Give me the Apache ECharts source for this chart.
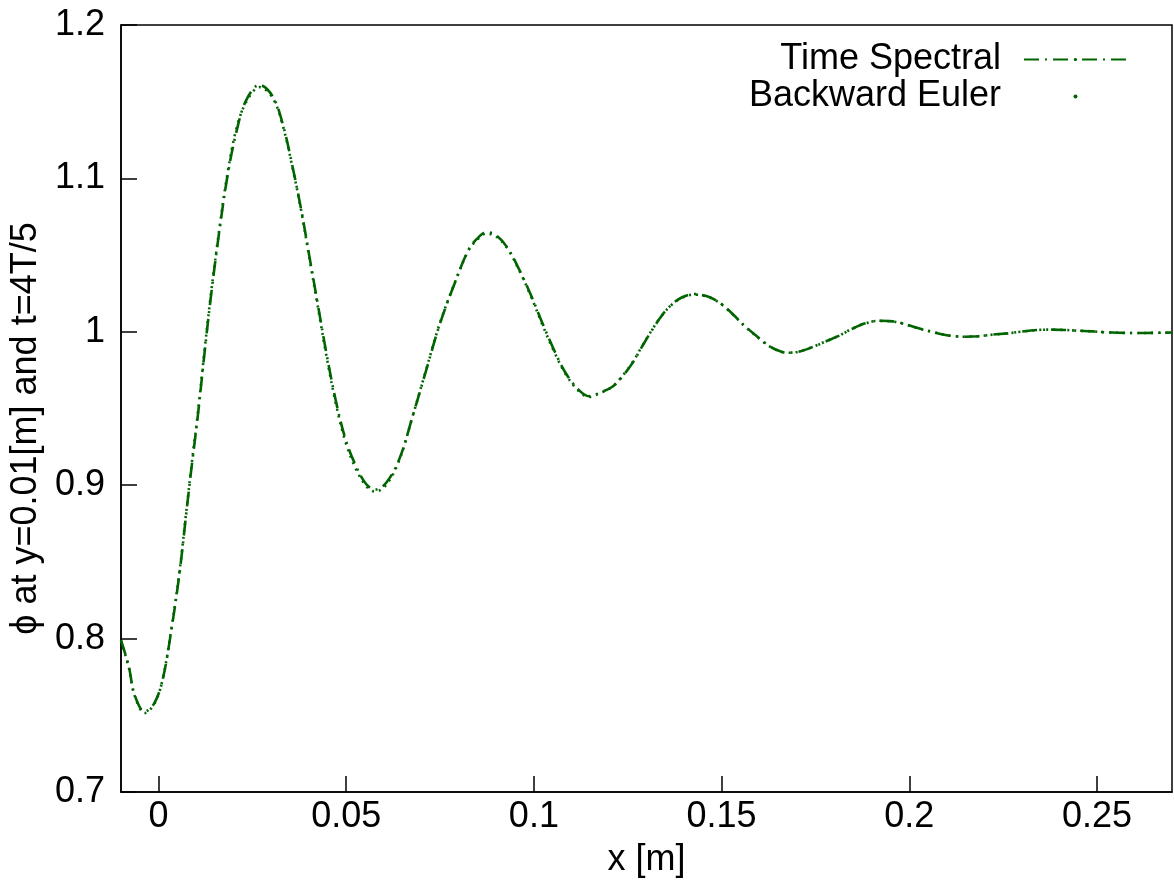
<!DOCTYPE html>
<html>
<head>
<meta charset="utf-8">
<script src="https://cdn.jsdelivr.net/npm/echarts@6/dist/echarts.min.js"></script>
<style>
html,body{margin:0;padding:0;background:#fff;}
#chart{width:1174px;height:886px;}
</style>
</head>
<body>
<div id="chart"></div>
<script>
// x positions [m]
const xs = [-0.0100,-0.0079,-0.0064,-0.0037,-0.0011,0.0011,0.0034,0.0056,0.0074,0.0087,
0.0105,0.0122,0.0140,0.0162,0.0184,0.0207,0.0233,0.0269,0.0304,0.0331,
0.0357,0.0380,0.0402,0.0424,0.0446,0.0473,0.0499,0.0526,0.0553,0.0577,
0.0606,0.0641,0.0677,0.0712,0.0748,0.0788,0.0827,0.0854,0.0873,0.0899,
0.0929,0.0960,0.0992,0.1022,0.1054,0.1085,0.1120,0.1147,0.1173,0.1209,
0.1235,0.1262,0.1288,0.1315,0.1342,0.1368,0.1395,0.1426,0.1457,0.1484,
0.1510,0.1537,0.1564,0.1590,0.1617,0.1643,0.1674,0.1705,0.1741,0.1776,
0.1812,0.1847,0.1883,0.1918,0.1945,0.1971,0.2025,0.2060,0.2087,0.2113,
0.2149,0.2184,0.2220,0.2264,0.2291,0.2344,0.2379,0.2415,0.2450,0.2486,
0.2521,0.2557,0.2592,0.2628,0.2663,0.2700];

// Time Spectral values
const tsY = [0.7990,0.7816,0.7635,0.7523,0.7580,0.7733,0.8053,0.8429,0.8819,0.9097,
0.9460,0.9850,1.0240,1.0657,1.1020,1.1299,1.1507,1.1610,1.1535,1.1354,
1.1076,1.0797,1.0490,1.0184,0.9877,0.9543,0.9293,0.9125,0.9008,0.8972,
0.9014,0.9167,0.9450,0.9740,1.0040,1.0310,1.0540,1.0620,1.0650,1.0630,
1.0550,1.0410,1.0240,1.0060,0.9880,0.9730,0.9620,0.9580,0.9600,0.9642,
0.9707,0.9794,0.9903,1.0012,1.0110,1.0180,1.0225,1.0246,1.0235,1.0207,
1.0160,1.0098,1.0033,0.9979,0.9925,0.9886,0.9864,0.9870,0.9899,0.9935,
0.9973,1.0018,1.0055,1.0072,1.0070,1.0062,1.0023,1.0001,0.9984,0.9973,
0.9968,0.9971,0.9981,0.9990,0.9999,1.0012,1.0014,1.0012,1.0007,1.0003,
0.9997,0.9994,0.9992,0.9992,0.9994,0.9995];

// Backward Euler values
const beY = [0.7985,0.7810,0.7630,0.7515,0.7575,0.7735,0.8060,0.8440,0.8830,0.9110,
0.9475,0.9865,1.0255,1.0670,1.1035,1.1320,1.1495,1.1595,1.1525,1.1345,
1.1070,1.0790,1.0480,1.0170,0.9860,0.9525,0.9275,0.9105,0.8995,0.8958,
0.9000,0.9160,0.9450,0.9745,1.0045,1.0312,1.0535,1.0612,1.0640,1.0622,
1.0545,1.0405,1.0232,1.0050,0.9870,0.9722,0.9612,0.9575,0.9597,0.9642,
0.9710,0.9798,0.9906,1.0014,1.0110,1.0178,1.0222,1.0243,1.0233,1.0205,
1.0158,1.0096,1.0031,0.9977,0.9923,0.9884,0.9863,0.9870,0.9900,0.9936,
0.9974,1.0019,1.0055,1.0071,1.0069,1.0061,1.0022,1.0000,0.9984,0.9973,
0.9968,0.9971,0.9981,0.9990,0.9999,1.0012,1.0014,1.0012,1.0007,1.0003,
0.9997,0.9994,0.9992,0.9992,0.9994,0.9995];

const xTicks = [0, 0.05, 0.1, 0.15, 0.2, 0.25];
const yTicks = [0.7, 0.8, 0.9, 1.0, 1.1, 1.2];

const tsData = xs.map((x, i) => [x, tsY[i]]);
const beData = xs.map((x, i) => [x, beY[i]]);

const GREEN = '#006400';
const FONT = 'Liberation Sans';
const FS = 36;

const chart = echarts.init(document.getElementById('chart'), null, {renderer: 'canvas'});
chart.setOption({
  animation: false,
  backgroundColor: '#ffffff',
  grid: {
    left: 121, right: 2, top: 25, bottom: 94,
    show: true, borderColor: '#000', borderWidth: 1.5, backgroundColor: 'transparent'
  },
  legend: {
    orient: 'vertical',
    align: 'right',
    right: 46,
    top: 41,
    padding: 0,
    itemGap: 0,
    itemWidth: 103,
    itemHeight: 4,
    textStyle: {fontFamily: FONT, fontSize: FS, color: '#000', lineHeight: 37, padding: [0, 18, 0, 0]},
    data: [
      {name: 'Time Spectral'},
      {name: 'Backward Euler', icon: 'circle'}
    ]
  },
  xAxis: {
    type: 'value',
    min: -0.01,
    max: 0.27,
    name: 'x [m]',
    nameLocation: 'middle',
    nameGap: 50,
    nameTextStyle: {fontFamily: FONT, fontSize: FS, color: '#000'},
    axisLine: {show: true, onZero: false, lineStyle: {color: '#000', width: 1.5}},
    axisTick: {show: true, inside: true, length: 16, customValues: xTicks, lineStyle: {color: '#000', width: 1.5}},
    axisLabel: {
      customValues: xTicks,
      margin: 7,
      fontFamily: FONT, fontSize: FS, color: '#000',
      formatter: v => String(Math.round(v * 100) / 100)
    },
    splitLine: {show: false}
  },
  yAxis: {
    type: 'value',
    min: 0.7,
    max: 1.2,
    name: '\u03d5 at y=0.01[m] and t=4T/5',
    nameLocation: 'middle',
    nameGap: 76,
    nameTextStyle: {fontFamily: FONT, fontSize: FS, color: '#000', padding: [0, 40, 0, 0]},
    axisLine: {show: true, onZero: false, lineStyle: {color: '#000', width: 1.5}},
    axisTick: {show: true, inside: true, length: 16, customValues: yTicks, lineStyle: {color: '#000', width: 1.5}},
    axisLabel: {
      customValues: yTicks,
      margin: 16,
      fontFamily: FONT, fontSize: FS, color: '#000',
      formatter: v => String(Math.round(v * 10) / 10)
    },
    splitLine: {show: false}
  },
  series: [
    {
      name: 'Time Spectral',
      type: 'line',
      data: tsData,
      symbol: 'none',
      showSymbol: false,
      smooth: 0.35,
      color: GREEN,
      lineStyle: {color: GREEN, width: 2.6, type: [15, 6, 2, 6]},
      z: 3
    },
    {
      name: 'Backward Euler',
      type: 'line',
      data: beData,
      symbol: 'none',
      showSymbol: false,
      smooth: 0.35,
      color: GREEN,
      itemStyle: {color: GREEN},
      lineStyle: {color: GREEN, width: 2.6, type: [2, 5]},
      z: 2
    }
  ]
});
</script>
</body>
</html>
